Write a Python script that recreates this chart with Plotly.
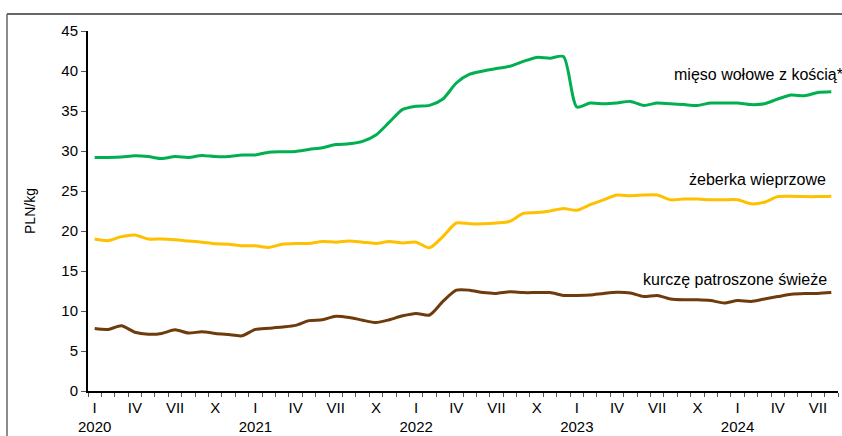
import plotly.graph_objects as go

# ---- data (monthly, Jan 2020 - Aug 2024) ----
roman = ["I", "II", "III", "IV", "V", "VI", "VII", "VIII", "IX", "X", "XI", "XII"]
years = [2020, 2021, 2022, 2023, 2024]
n_months = 56

beef = [29.2, 29.2, 29.25, 29.4, 29.3, 29.05, 29.3, 29.2, 29.45, 29.3, 29.3, 29.5,
        29.5, 29.85, 29.9, 29.95, 30.2, 30.4, 30.8, 30.9, 31.2, 32.0, 33.6, 35.2,
        35.6, 35.7, 36.5, 38.5, 39.6, 40.0, 40.3, 40.6, 41.2, 41.7, 41.6, 41.8,
        35.5, 36.0, 35.9, 36.0, 36.2, 35.7, 36.0, 35.9, 35.8, 35.7, 36.0, 36.0,
        36.0, 35.8, 35.9, 36.5, 37.0, 36.9, 37.3, 37.4]
ribs = [19.0, 18.8, 19.3, 19.5, 19.0, 19.0, 18.9, 18.75, 18.6, 18.4, 18.35, 18.15,
        18.15, 17.95, 18.35, 18.45, 18.45, 18.7, 18.6, 18.75, 18.6, 18.45, 18.7, 18.5,
        18.6, 17.9, 19.3, 21.0, 20.9, 20.9, 21.0, 21.2, 22.2, 22.3, 22.5, 22.8,
        22.6, 23.3, 23.9, 24.5, 24.4, 24.5, 24.5, 23.9, 24.0, 24.0, 23.9, 23.9,
        23.9, 23.4, 23.6, 24.3, 24.35, 24.3, 24.3, 24.35]
chicken = [7.8, 7.7, 8.15, 7.35, 7.1, 7.2, 7.65, 7.25, 7.4, 7.2, 7.05, 6.9,
           7.7, 7.85, 8.0, 8.2, 8.8, 8.9, 9.35, 9.2, 8.85, 8.55, 8.9, 9.4,
           9.7, 9.5, 11.2, 12.6, 12.6, 12.3, 12.2, 12.4, 12.3, 12.3, 12.3, 11.95,
           11.95, 12.0, 12.2, 12.35, 12.25, 11.8, 11.95, 11.5, 11.4, 11.4, 11.3, 11.0,
           11.3, 11.2, 11.5, 11.8, 12.1, 12.2, 12.2, 12.3]

series_names = ["mięso wołowe z kością*", "żeberka wieprzowe", "kurczę patroszone świeże"]
series_colors = ["#00B050", "#FFC000", "#6E3B0C"]

x = list(range(n_months))
roman_vals = [i for i in x if i % 3 == 0]
roman_text = [roman[i % 12] for i in roman_vals]
year_vals = [i for i in x if i % 12 == 0]
year_text = [str(years[i // 12]) for i in year_vals]

fig = go.Figure()
for name, vals, col in zip(series_names, [beef, ribs, chicken], series_colors):
    fig.add_trace(go.Scatter(x=x, y=vals, mode="lines", name=name, hoverinfo="skip",
                             line=dict(color=col, width=3, shape="spline", smoothing=0.7)))
# invisible helper so the year axis is drawn
fig.add_trace(go.Scatter(x=[0], y=[0], xaxis="x2", mode="markers",
                         marker=dict(opacity=0), hoverinfo="skip", showlegend=False))

font = "Liberation Sans, Arial, sans-serif"
xr = [-0.5, n_months - 0.5]

fig.update_layout(
    width=842, height=436,
    margin=dict(l=88, r=4, t=31, b=45, autoexpand=False),
    paper_bgcolor="white", plot_bgcolor="white",
    showlegend=False,
    font=dict(family=font, size=15, color="#000000"),
    xaxis=dict(range=xr, tickvals=roman_vals, ticktext=roman_text, automargin=False,
               ticks="", showgrid=False, zeroline=False,
               showline=True, linecolor="#000000", linewidth=2,
               tickfont=dict(family=font, size=15), ticklabelstandoff=2,
               minor=dict(tickvals=[i - 0.5 for i in range(n_months + 1)],
                          ticks="outside", ticklen=4, tickcolor="#555555", tickwidth=1,
                          showgrid=False)),
    xaxis2=dict(range=xr, overlaying="x", anchor="y", side="bottom", automargin=False,
                tickvals=year_vals, ticktext=year_text, ticks="",
                showgrid=False, zeroline=False, showline=False,
                tickfont=dict(family=font, size=15), ticklabelstandoff=25),
    yaxis=dict(range=[0, 45], dtick=5, ticks="outside", ticklen=5, tickcolor="#555555",
               showgrid=False, zeroline=False, automargin=False,
               showline=True, linecolor="#000000", linewidth=2,
               tickfont=dict(family=font, size=15),
               title=dict(text="PLN/kg", font=dict(family=font, size=14), standoff=22)),
)

# series labels
fig.add_annotation(x=(672 - 88) / 750, xref="paper", y=39.6, yref="y",
                   text=series_names[0], showarrow=False, xanchor="left", yanchor="middle",
                   font=dict(family=font, size=16, color="#000000"))
fig.add_annotation(x=(828 - 88) / 750, xref="paper", y=26.4, yref="y",
                   text=series_names[1], showarrow=False, xanchor="right", yanchor="middle",
                   font=dict(family=font, size=16, color="#000000"))
fig.add_annotation(x=(829 - 88) / 750, xref="paper", y=14.0, yref="y",
                   text=series_names[2], showarrow=False, xanchor="right", yanchor="middle",
                   font=dict(family=font, size=16, color="#000000"))

# outer frame (partial, as in the cropped source)
fig.add_shape(type="line", xref="paper", yref="paper",
              x0=(7 - 88) / 750, x1=(842 - 88) / 750 + 0.01, y0=(391 - 14) / 360, y1=(391 - 14) / 360,
              line=dict(color="#333333", width=1.5))
fig.add_shape(type="line", xref="paper", yref="paper",
              x0=(7 - 88) / 750, x1=(7 - 88) / 750, y0=(391 - 14) / 360, y1=-0.2,
              line=dict(color="#666666", width=1.5))

fig.write_html("out.html", config={"displayModeBar": False},
               post_script="document.body.style.margin='0';document.body.style.overflow='hidden';")
